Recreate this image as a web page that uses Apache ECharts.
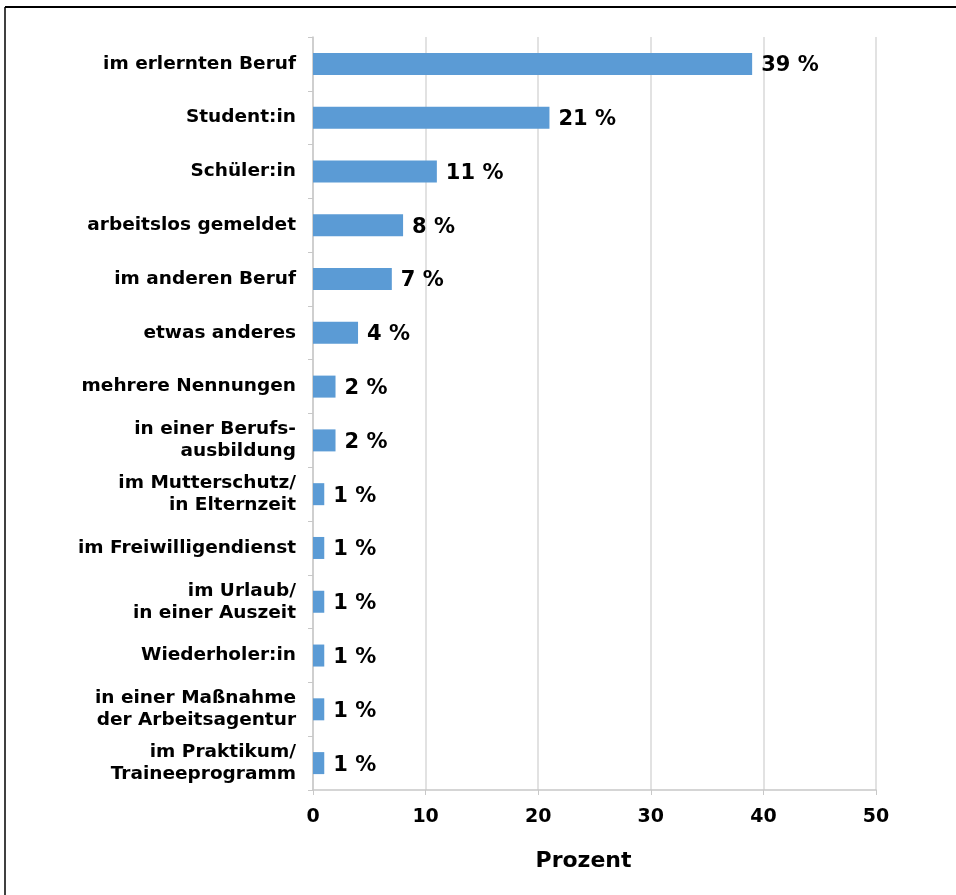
<!DOCTYPE html>
<html>
<head>
<meta charset="utf-8">
<script src="https://cdn.jsdelivr.net/npm/echarts@6/dist/echarts.min.js"></script>
<style>
  html, body { margin: 0; padding: 0; background: #fff; }
  #chart { width: 956px; height: 895px; }
</style>
</head>
<body>
<div id="chart"></div>
<script>
// categories top to bottom, share in percent
const categories = [
  'im erlernten Beruf',
  'Student:in',
  'Schüler:in',
  'arbeitslos gemeldet',
  'im anderen Beruf',
  'etwas anderes',
  'mehrere Nennungen',
  'in einer Berufs-\nausbildung',
  'im Mutterschutz/\nin Elternzeit',
  'im Freiwilligendienst',
  'im Urlaub/\nin einer Auszeit',
  'Wiederholer:in',
  'in einer Maßnahme\nder Arbeitsagentur',
  'im Praktikum/\nTraineeprogramm'
]
const values = [39, 21, 11, 8, 7, 4, 2, 2, 1, 1, 1, 1, 1, 1]
const xTicks = { min: 0, max: 50, interval: 10 }

const font = 'DejaVu Sans, Verdana, sans-serif'

const chart = echarts.init(document.getElementById('chart'), null, { renderer: 'canvas' })
chart.setOption({
  animation: false,
  backgroundColor: '#fff',
  grid: { left: 313, right: 80, top: 37, bottom: 105, containLabel: false },
  graphic: [
    { type: 'line', shape: { x1: 5, y1: 7, x2: 956, y2: 7 }, style: { stroke: '#000', lineWidth: 2 } },
    { type: 'line', shape: { x1: 5, y1: 7, x2: 5, y2: 895 }, style: { stroke: '#000', lineWidth: 1.5 } }
  ],
  xAxis: {
    type: 'value',
    min: xTicks.min,
    max: xTicks.max,
    interval: xTicks.interval,
    name: 'Prozent',
    nameLocation: 'middle',
    nameGap: 60,
    nameTextStyle: { fontFamily: font, fontWeight: 'bold', fontSize: 22, color: '#000', padding: [0, 22, 0, 0] },
    axisLine: { show: true, lineStyle: { color: '#c8c8c8', width: 1.5 } },
    axisTick: { show: true, length: 5, lineStyle: { color: '#c8c8c8' } },
    axisLabel: { fontFamily: font, fontWeight: 'bold', fontSize: 19, color: '#000', margin: 18 },
    splitLine: { show: true, lineStyle: { color: '#d9d9d9', width: 1.5 } }
  },
  yAxis: {
    type: 'category',
    inverse: true,
    data: categories,
    axisLine: { show: true, lineStyle: { color: '#c8c8c8', width: 1.5 } },
    axisTick: { show: true, length: 5, lineStyle: { color: '#c8c8c8' } },
    axisLabel: {
      fontFamily: font, fontWeight: 'bold', fontSize: 18.5, color: '#000',
      margin: 17, lineHeight: 22, align: 'right', padding: [5, 0, 0, 0]
    }
  },
  series: [{
    type: 'bar',
    data: values,
    barWidth: 22,
    itemStyle: { color: '#5b9bd5' },
    label: {
      show: true,
      position: 'right',
      distance: 9,
      offset: [0, 2],
      formatter: p => p.value + ' %',
      fontFamily: font, fontWeight: 'bold', fontSize: 21, color: '#000'
    }
  }]
})
</script>
</body>
</html>
